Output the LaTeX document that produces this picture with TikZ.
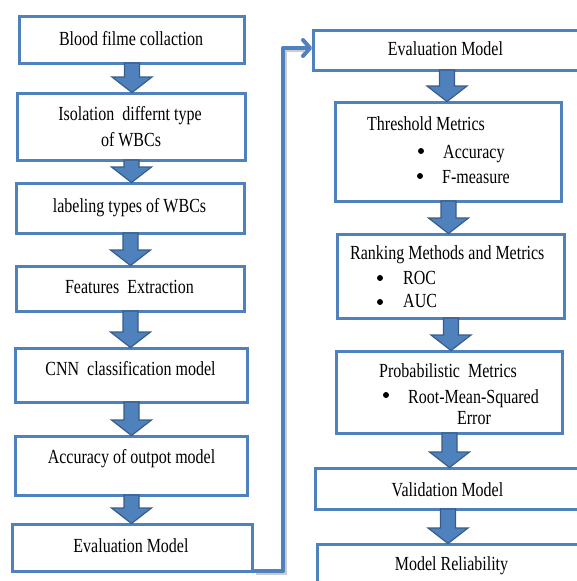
\documentclass[tikz,border=0pt]{standalone}
\usepackage{fontspec}
\setmainfont[FakeStretch=0.8]{Liberation Serif}
\usetikzlibrary{calc,arrows.meta}
\definecolor{boxblue}{HTML}{4F81BD}
\definecolor{edgeblue}{HTML}{385D8A}
\newcommand{\flowarrow}[2]{%
  \filldraw[blockarrow] let \p1=(#1.south), \p2=(#2.north) in
    (\x1-7.5pt,\y1+2pt) -- (\x1+7.5pt,\y1+2pt) -- (\x1+7.5pt,\y2+15pt)
    -- (\x1+20pt,\y2+15pt) -- (\x1,\y2-0.5pt) -- (\x1-20pt,\y2+15pt)
    -- (\x1-7.5pt,\y2+15pt) -- cycle;}

\begin{document}
\begin{tikzpicture}[x=1pt,y=-1pt,
    box/.style={draw=boxblue,line width=3pt,fill=white,inner sep=0pt},
    txt/.style={anchor=base,inner sep=0pt,font=\fontsize{20}{24}\selectfont},
    lefttxt/.style={txt,anchor=base west},
    blockarrow/.style={fill=boxblue,draw=edgeblue,line width=1.2pt},
    link/.style={draw=boxblue,line width=4pt,line join=round,
      -{Straight Barb[length=7pt,width=16pt,line cap=round,line join=round]}},
    shadowline/.style={draw=black!20,line width=4pt}]
   \useasboundingbox (0,0) rectangle (577,581);
   \clip (0,0) rectangle (577,581);
   % left column
   \node[box,minimum width=225pt,minimum height=47pt] (b1) at (132,40)    {};
   \node[box,minimum width=228pt,minimum height=67pt] (b2) at (131.5,127) {};
   \node[box,minimum width=228pt,minimum height=50pt] (b3) at (130.5,208.5) {};
   \node[box,minimum width=228pt,minimum height=45pt] (b4) at (130.5,289) {};
   \node[box,minimum width=232pt,minimum height=54pt] (b5) at (131.5,375.5) {};
   \node[box,minimum width=232pt,minimum height=59pt] (b6) at (131.5,466) {};
   \node[box,minimum width=240pt,minimum height=47pt] (b7) at (132.5,548) {};
   % right column
   \node[box,minimum width=267pt,minimum height=40pt] (r1) at (447,50.5)  {};
   \node[box,minimum width=226pt,minimum height=99pt] (r2) at (448.5,152) {};
   \node[box,minimum width=227pt,minimum height=84pt] (r3) at (451,276.5) {};
   \node[box,minimum width=226pt,minimum height=82pt] (r4) at (449.5,392.5) {};
   \node[box,minimum width=265pt,minimum height=41pt] (r5) at (448,489)   {};
   \node[box,minimum width=263pt,minimum height=74pt] (r6) at (449,581.5) {};
   % texts
   \node[txt] (t1)  at (131,45)  {Blood filme collaction};
   \node[txt] (t2a) at (130,120) {Isolation~ differnt type};
   \node[txt] (t2b) at (131,146) {of WBCs};
   \node[txt] (t3)  at (129.5,212) {labeling types of WBCs};
   \node[txt] (t4)  at (129.5,293) {Features~ Extraction};
   \node[txt] (t5)  at (130.5,375) {CNN~ classification model};
   \node[txt] (t6)  at (131.5,463) {Accuracy of outpot model};
   \node[txt] (t7)  at (131,552) {Evaluation Model};
   \node[txt] (s1)  at (445.5,55) {Evaluation Model};
   \node[lefttxt] (s2)  at (367,130) {Threshold Metrics};
   \node[lefttxt] (s2a) at (443,158) {Accuracy};
   \node[lefttxt] (s2b) at (442,183) {F-measure};
   \node[lefttxt] (s3)  at (350,259) {Ranking Methods and Metrics};
   \node[lefttxt] (s3a) at (403,284) {ROC};
   \node[lefttxt] (s3b) at (403,307) {AUC};
   \node[lefttxt] (s4)  at (379,377) {Probabilistic~ Metrics};
   \node[lefttxt] (s4a) at (408,403) {Root-Mean-Squared};
   \node[txt] (s4b) at (474,424) {Error};
   \node[txt] (s5)  at (447.5,496) {Validation Model};
   \node[txt] (s6)  at (451.5,570) {Model Reliability};
   % bullets
   \fill (421,151) circle(3);
   \fill (420,176) circle(3);
   \fill (380,278) circle(3);
   \fill (380,302) circle(3);
   \fill (386,395) circle(3);
   % block arrows
   \flowarrow{b1}{b2}
   \flowarrow{b2}{b3}
   \flowarrow{b3}{b4}
   \flowarrow{b4}{b5}
   \flowarrow{b5}{b6}
   \flowarrow{b6}{b7}
   \flowarrow{r1}{r2}
   \flowarrow{r2}{r3}
   \flowarrow{r3}{r4}
   \flowarrow{r4}{r5}
   \flowarrow{r5}{r6}
   % connector between the columns
   \coordinate (c1) at ([yshift=2pt]b7.south east);
   \coordinate (c2) at ([yshift=2.5pt]r1.west);
   \draw[shadowline] ([shift={(1.5pt,-2pt)}]c1) -- ++(29,0) |- ([shift={(-8pt,-2pt)}]c2);
   \draw[link] (c1) -- ++(29,0) |- (c2);
  \end{tikzpicture}
\end{document}
